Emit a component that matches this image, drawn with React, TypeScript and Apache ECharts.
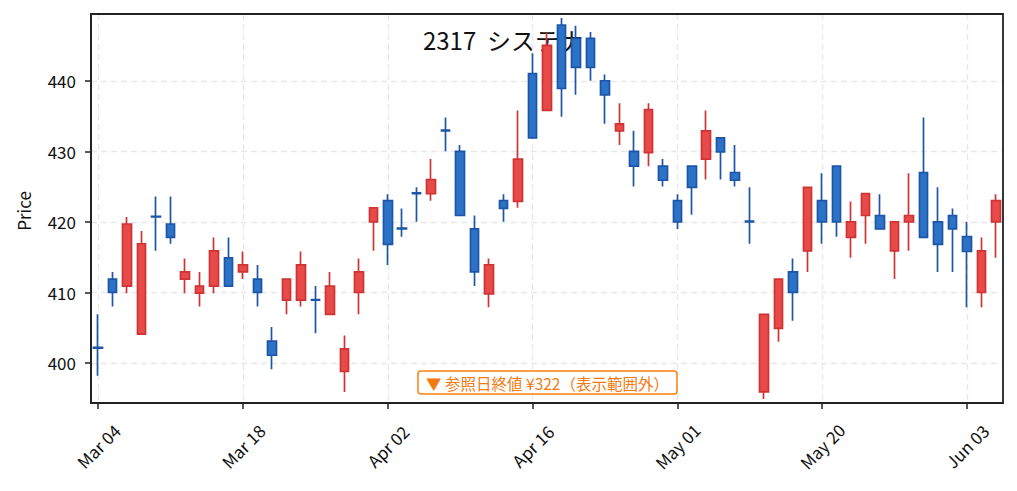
import React, { useEffect, useRef } from "react";
import * as echarts from "echarts";

const categories: string[] = [
  "Mar 04", "Mar 05", "Mar 06", "Mar 07", "Mar 08", "Mar 11", "Mar 12", "Mar 13", "Mar 14", "Mar 15",
  "Mar 18", "Mar 19", "Mar 21", "Mar 22", "Mar 25", "Mar 26", "Mar 27", "Mar 28", "Mar 29", "Apr 01",
  "Apr 02", "Apr 03", "Apr 04", "Apr 05", "Apr 08", "Apr 09", "Apr 10", "Apr 11", "Apr 12", "Apr 15",
  "Apr 16", "Apr 17", "Apr 18", "Apr 19", "Apr 22", "Apr 23", "Apr 24", "Apr 25", "Apr 26", "Apr 30",
  "May 01", "May 02", "May 07", "May 08", "May 09", "May 10", "May 13", "May 14", "May 15", "May 16",
  "May 20", "May 21", "May 22", "May 23", "May 24", "May 27", "May 28", "May 29", "May 30", "May 31",
  "Jun 03", "Jun 04", "Jun 05",
];

const opens: number[] = [
  402.2, 411.9, 410.9, 404.1, 420.8, 419.7, 411.9, 409.9, 410.9, 414.9,
  412.9, 411.9, 403.1, 408.9, 408.9, 409.0, 406.9, 398.8, 410.0, 420.0,
  423.0, 419.1, 424.1, 424.0, 433.0, 430.0, 419.0, 409.8, 423.0, 422.9,
  441.0, 435.8, 447.9, 446.0, 446.0, 440.0, 432.9, 430.0, 429.8, 427.9,
  423.0, 427.9, 428.9, 431.9, 427.0, 420.1, 395.9, 404.9, 412.9, 415.9,
  423.0, 427.9, 417.8, 420.9, 420.9, 415.9, 420.0, 427.0, 420.0, 420.9,
  417.9, 410.0, 420.0,
];
const closes: number[] = [
  402.1, 410.0, 419.7, 416.9, 420.7, 417.8, 412.9, 410.9, 415.9, 410.9,
  413.9, 410.0, 401.1, 411.9, 413.9, 408.9, 410.9, 402.0, 412.9, 422.0,
  416.8, 419.0, 424.0, 426.0, 432.9, 420.9, 412.9, 413.9, 421.9, 428.9,
  431.9, 445.0, 438.9, 441.9, 441.9, 438.0, 433.9, 427.9, 435.9, 425.9,
  420.0, 424.9, 432.9, 429.9, 425.9, 420.0, 406.9, 411.9, 410.0, 424.9,
  420.0, 420.0, 420.0, 424.0, 419.0, 420.0, 420.9, 417.8, 416.8, 419.0,
  415.8, 415.9, 423.0,
];
const lows: number[] = [
  398.2, 408.0, 409.9, 404.1, 415.9, 416.9, 409.9, 408.0, 409.9, 410.9,
  411.9, 408.0, 399.1, 406.9, 408.0, 404.2, 406.9, 395.9, 406.9, 415.9,
  413.9, 417.9, 420.0, 423.0, 430.0, 420.9, 410.9, 407.9, 420.0, 422.0,
  431.9, 435.8, 434.9, 438.0, 440.0, 433.9, 430.9, 425.0, 427.9, 425.0,
  419.0, 421.0, 426.0, 426.0, 425.0, 416.9, 394.9, 403.0, 406.0, 412.9,
  416.9, 417.9, 414.9, 416.9, 419.0, 411.9, 415.9, 417.8, 412.9, 412.9,
  407.9, 407.9, 414.9,
];
const highs: number[] = [
  406.9, 412.9, 420.7, 418.7, 423.6, 423.6, 414.8, 412.9, 417.8, 417.8,
  415.8, 413.9, 405.1, 411.9, 415.8, 410.9, 412.9, 403.9, 414.8, 422.0,
  423.9, 421.9, 424.9, 428.9, 434.8, 430.9, 420.9, 414.8, 423.9, 435.8,
  443.9, 446.8, 448.9, 447.8, 446.9, 440.9, 436.8, 432.9, 436.8, 428.9,
  423.9, 427.9, 435.8, 431.9, 430.9, 424.9, 406.9, 411.9, 414.8, 424.9,
  426.9, 427.9, 422.9, 424.0, 423.9, 420.0, 426.9, 434.8, 424.9, 421.9,
  420.0, 417.8, 423.9,
];

const yMin = 394.33;
const yMax = 449.46;
const titleText = "2317  システナ";
const yAxisTitle = "Price";
const noteText = "▼ 参照日終値 ¥322（表示範囲外）";

const FONT = "'Noto Sans CJK JP', 'Noto Sans', sans-serif";

export default function App() {
  const ref = useRef<HTMLDivElement>(null);

  useEffect(() => {
    document.body.style.margin = "0";
    if (!ref.current) return;
    const chart = echarts.init(ref.current, undefined, { renderer: "svg" });
    const ohlc = categories.map((_, i) => [opens[i], closes[i], lows[i], highs[i]]);

    chart.setOption({
      animation: false,
      backgroundColor: "#ffffff",
      textStyle: { fontFamily: FONT },
      grid: {
        left: 91,
        right: 14,
        top: 14,
        bottom: 88,
        show: false,
      },
      xAxis: {
        type: "category",
        data: categories,
        boundaryGap: true,
        axisLine: { show: true, lineStyle: { color: "#222222", width: 1.8 } },
        axisTick: {
          show: true,
          interval: 9,
          alignWithLabel: true,
          length: 6,
          lineStyle: { color: "#222222", width: 1.5 },
        },
        axisLabel: {
          interval: 9,
          rotate: 45,
          align: "center",
          verticalAlign: "middle",
          margin: 43,
          fontSize: 17,
          color: "#111111",
          fontFamily: FONT,
        },
        splitLine: {
          show: true,
          interval: 9,
          alignWithLabel: true,
          lineStyle: { color: "#e8e8e8", width: 1.3, type: [6, 4] },
        },
      },
      yAxis: {
        type: "value",
        min: yMin,
        max: yMax,
        splitNumber: 5,
        scale: true,
        axisLine: { show: true, lineStyle: { color: "#222222", width: 1.8 } },
        axisTick: { show: true, length: 6, lineStyle: { color: "#222222", width: 1.5 } },
        axisLabel: {
          margin: 15,
          fontSize: 17,
          color: "#111111",
          fontFamily: FONT,
          showMinLabel: false,
          showMaxLabel: false,
          formatter: (v: number) =>
            Math.abs(v - Math.round(v / 10) * 10) < 1e-6 ? String(Math.round(v)) : "",
        },
        splitLine: {
          show: true,
          showMinLine: false,
          showMaxLine: false,
          lineStyle: { color: "#e8e8e8", width: 1.3, type: [6, 4] },
        },
      },
      graphic: [
        {
          type: "text",
          x: 503,
          y: 39,
          z: 0,
          style: {
            text: titleText,
            align: "center",
            verticalAlign: "middle",
            fontSize: 24,
            fill: "#111111",
            fontFamily: FONT,
          },
        },
        {
          type: "text",
          x: 23,
          y: 211,
          rotation: Math.PI / 2,
          style: {
            text: yAxisTitle,
            align: "center",
            verticalAlign: "middle",
            fontSize: 17,
            fill: "#111111",
            fontFamily: FONT,
          },
        },
        {
          type: "rect",
          z: 60,
          silent: true,
          shape: { x: 91, y: 14, width: 912, height: 389 },
          style: { fill: "none", stroke: "#222222", lineWidth: 1.8 },
        },
        {
          type: "rect",
          z: 100,
          shape: { x: 418, y: 371, width: 259, height: 23, r: 3 },
          style: { fill: "#ffffff", stroke: "#ff7f0e", lineWidth: 1.5 },
        },
        {
          type: "text",
          z: 101,
          x: 547.5,
          y: 383,
          style: {
            text: noteText,
            align: "center",
            verticalAlign: "middle",
            fontSize: 15.5,
            fill: "#f47a10",
            fontFamily: FONT,
          },
        },
      ],
      series: [
        {
          type: "candlestick",
          data: ohlc,
          barWidth: 9,
          z: 5,
          itemStyle: {
            color: "#e84a4a",
            color0: "#2c72c7",
            borderColor: "#cf3434",
            borderColor0: "#1d56a6",
            borderWidth: 1.7,
          },
        },
      ],
    });

    return () => chart.dispose();
  }, []);

  return (
    <div
      ref={ref}
      style={{ position: "fixed", left: 0, top: 0, width: 1017, height: 491 }}
    />
  );
}
